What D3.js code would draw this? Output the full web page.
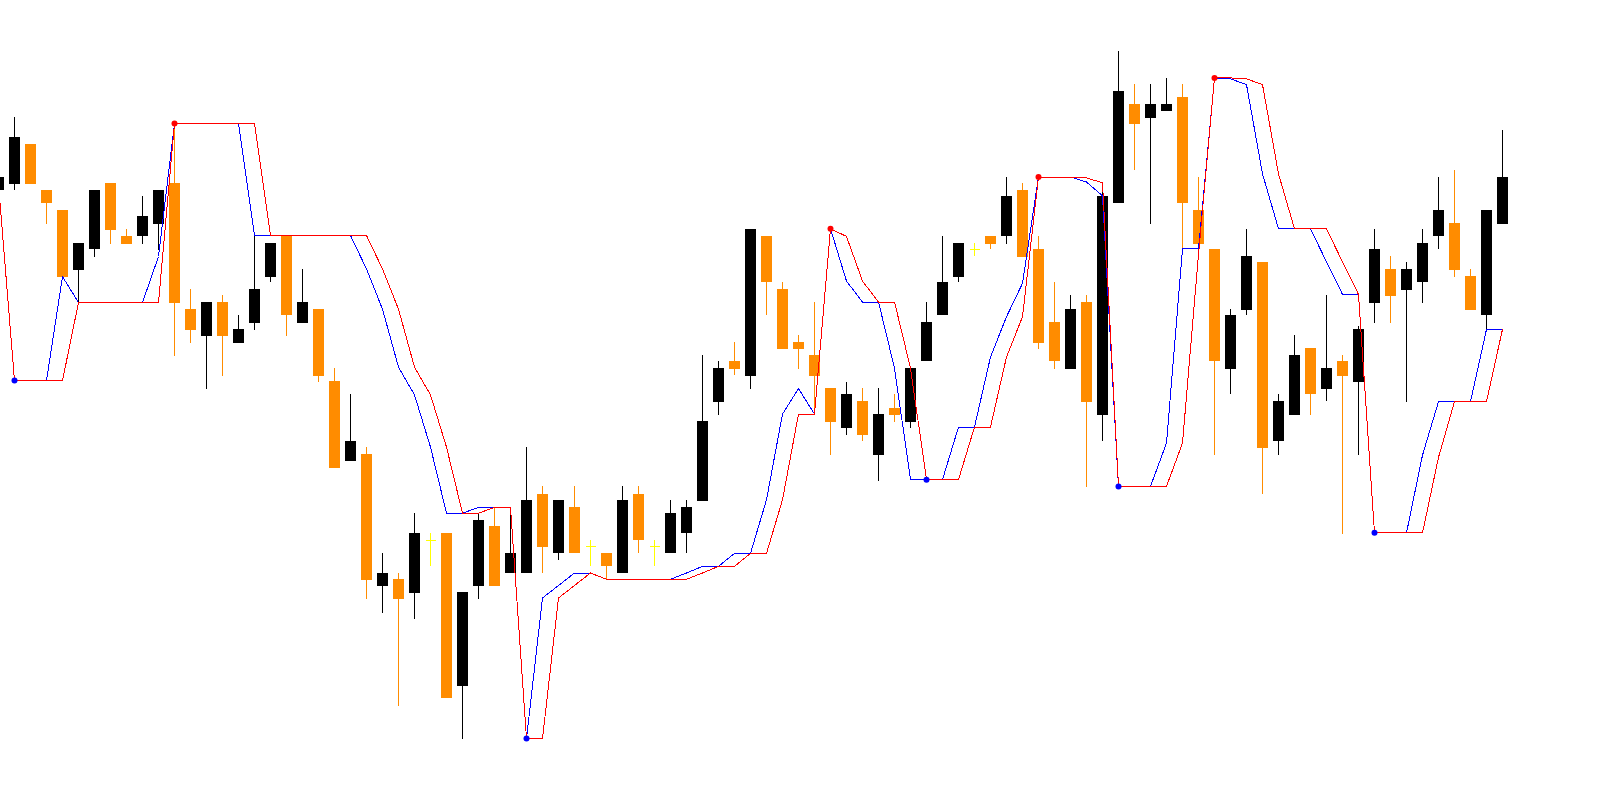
<!DOCTYPE html>
<html>
<head>
<meta charset="utf-8">
<script src="https://cdn.jsdelivr.net/npm/d3@7/dist/d3.min.js"></script>
<style>
  html, body { margin: 0; padding: 0; background: #fff; }
  svg { display: block; }
</style>
</head>
<body>
<svg width="1607" height="808"></svg>
<script>

// candles, one per bar (price units, no axis on the chart)
var open = [609.6,616.3,656.0,610.0,589.9,530.5,550.6,617.2,564.0,563.6,
            576.5,617.2,490.8,464.5,498.0,457.3,477.4,523.4,564.5,477.4,
            490.8,419.0,339.5,346.2,213.6,221.2,207.4,260.0,267.2,114.5,
            213.6,273.9,227.0,227.0,306.0,246.6,293.5,253.3,247.1,227.0,
            306.0,253.3,246.6,266.7,299.3,398.4,439.0,424.3,564.5,510.9,
            458.2,444.8,411.8,372.5,398.9,345.3,392.2,378.3,438.6,484.6,
            523.4,550.6,564.0,563.6,610.0,551.1,477.9,431.4,498.0,385.5,
            596.6,696.2,682.3,688.6,702.9,589.9,551.1,431.4,490.4,538.1,
            358.7,385.5,452.0,411.4,439.0,418.5,497.5,531.0,510.5,517.6,
            563.6,577.0,523.9,484.6,576.5];
var high = [623.0,683.2,656.0,610.0,589.9,556.9,610.0,617.2,571.2,604.2,
            610.0,675.0,510.9,498.0,505.1,485.0,564.5,556.9,564.5,531.0,
            490.8,431.9,406.0,352.9,247.1,227.4,286.8,267.2,267.2,208.2,
            286.8,293.5,285.5,352.9,313.6,300.2,313.6,260.0,247.1,313.6,
            313.6,260.0,300.2,300.2,444.8,439.0,458.2,571.2,564.5,517.6,
            464.9,498.0,411.8,418.5,411.8,411.8,406.0,431.9,498.0,564.0,
            556.9,556.9,564.0,623.0,617.2,564.0,518.0,505.1,505.1,608.2,
            748.8,715.8,715.8,722.1,715.8,623.0,551.1,490.8,571.2,538.1,
            405.6,464.9,452.0,505.1,444.8,474.3,571.2,543.9,538.1,571.2,
            623.0,630.1,531.0,589.9,669.8];
var low  = [609.6,609.6,616.3,576.5,523.4,497.5,543.5,556.4,556.4,556.4,
            550.2,444.4,457.3,411.4,424.3,457.3,470.3,517.6,464.5,477.4,
            418.1,332.3,339.5,200.7,187.3,94.4,180.6,234.1,101.6,61.4,
            200.7,213.6,227.0,227.0,227.0,239.9,246.6,234.1,220.7,227.0,
            246.6,234.1,246.6,246.6,299.3,385.5,425.2,411.4,484.6,451.5,
            431.4,387.3,345.3,365.4,358.7,319.4,378.3,372.5,438.6,484.6,
            517.6,543.9,550.6,556.4,543.5,451.5,431.4,431.4,312.7,358.7,
            596.6,629.6,576.5,688.6,551.1,554.0,345.3,405.6,484.6,305.6,
            345.3,385.5,385.5,398.9,266.3,345.3,477.4,477.4,398.4,497.5,
            550.6,523.4,490.4,470.7,576.5];
var close = [623.0,663.1,616.3,596.6,523.4,556.9,610.0,570.3,556.4,584.1,
            610.0,497.5,470.3,498.0,464.5,471.2,510.9,556.9,484.6,498.0,
            424.3,332.3,359.1,220.3,227.0,200.7,267.2,260.0,101.6,208.2,
            280.1,213.6,247.1,300.2,253.3,300.2,246.6,253.3,233.7,300.2,
            260.0,253.3,286.8,293.5,379.2,431.9,431.4,571.2,517.6,451.5,
            451.5,424.3,378.3,406.0,365.4,385.9,385.5,431.9,477.9,518.0,
            556.9,550.6,556.4,604.2,543.5,457.3,438.6,490.8,398.4,604.2,
            709.1,675.6,696.2,696.2,596.6,556.4,438.6,484.6,543.9,352.4,
            398.9,444.8,405.6,431.9,424.3,471.2,551.1,504.2,531.0,556.9,
            589.9,530.5,490.4,589.9,623.0];

// the two indicator lines
var redLine = [615.8,419.4,419.4,419.4,419.4,497.5,497.5,497.5,497.5,497.5,
            497.5,676.5,676.5,676.5,676.5,676.5,676.5,564.5,564.5,564.5,
            564.5,564.5,564.5,564.5,531.0,490.8,432.8,405.1,352.9,286.8,
            286.8,292.6,292.6,61.4,61.4,202.0,214.5,227.0,220.7,220.7,
            220.7,220.7,220.7,220.7,227.0,233.7,233.7,246.6,246.6,300.2,
            385.9,385.9,571.2,563.6,518.9,498.0,498.0,431.9,320.3,320.3,
            320.3,373.0,373.0,443.0,483.2,623.0,623.0,623.0,622.1,617.2,
            313.6,313.6,313.6,313.6,356.9,545.7,722.1,722.1,721.2,715.4,
            626.1,571.2,571.2,571.2,538.1,505.6,267.2,267.2,267.2,267.2,
            342.6,398.4,398.4,398.4,470.7];
var blueLine = [615.8,419.4,419.4,419.4,523.4,497.5,497.5,497.5,497.5,497.5,
            543.5,676.5,676.5,676.5,676.5,676.5,564.5,564.5,564.5,564.5,
            564.5,564.5,564.5,531.0,490.8,432.8,405.1,352.9,286.8,286.8,
            292.6,292.6,292.6,61.4,202.0,214.5,227.0,227.0,220.7,220.7,
            220.7,220.7,220.7,227.0,233.7,233.7,246.6,246.6,300.2,385.9,
            411.4,385.9,571.2,518.9,498.0,498.0,431.9,320.3,320.3,320.3,
            373.0,373.0,443.0,483.2,516.7,623.0,623.0,623.0,618.0,604.2,
            313.6,313.6,313.6,356.9,551.1,551.1,722.1,721.2,715.4,626.1,
            571.2,571.2,571.2,538.1,505.6,505.6,267.2,267.2,267.2,344.8,
            398.4,398.4,398.4,470.7,470.7];

// bars where the swing dots sit
var redDots = [11, 52, 65, 76];
var blueDots = [1, 33, 58, 70, 86];

var bullColor = "#000000",
    bearColor = "#ff8c00",
    dojiColor = "#ffff00";

var svg = d3.select("svg"),
    width = 1607,
    height = 808;

svg.append("rect").attr("width", width).attr("height", height).attr("fill", "#fff");

var x = d3.scaleLinear()
    .domain([0, open.length - 1])
    .range([-1.5, 1502.5]);     // 16px per bar, first bar half cut off

var y = d3.scaleLinear()
    .domain([0, 800])
    .range([800, 0]);

var bodyW = 11;

var bars = open.map(function(o, i) {
    return {i: i, o: o, h: high[i], l: low[i], c: close[i]};
});

function colorOf(d) {
    if (d.c > d.o) return bullColor;
    if (d.c < d.o) return bearColor;
    return dojiColor;
}

var g = svg.append("g").attr("shape-rendering", "crispEdges");

/* --------- wicks --------- */
g.selectAll("line.wick")
    .data(bars)
    .enter().append("line")
    .attr("class", "wick")
    .attr("x1", function(d) { return x(d.i); })
    .attr("x2", function(d) { return x(d.i); })
    .attr("y1", function(d) { return y(d.h); })
    .attr("y2", function(d) { return y(d.l); })
    .attr("stroke", colorOf)
    .attr("stroke-width", 1);

/* --------- bodies --------- */
g.selectAll("rect.body")
    .data(bars.filter(function(d) { return d.o !== d.c; }))
    .enter().append("rect")
    .attr("class", "body")
    .attr("x", function(d) { return x(d.i) - bodyW / 2; })
    .attr("y", function(d) { return y(Math.max(d.o, d.c)); })
    .attr("width", bodyW)
    .attr("height", function(d) { return Math.max(1, Math.abs(y(d.o) - y(d.c))); })
    .attr("fill", colorOf);

// doji -> little yellow cross
g.selectAll("line.doji")
    .data(bars.filter(function(d) { return d.o === d.c; }))
    .enter().append("line")
    .attr("class", "doji")
    .attr("x1", function(d) { return x(d.i) - 5; })
    .attr("x2", function(d) { return x(d.i) + 5; })
    .attr("y1", function(d) { return y(d.o); })
    .attr("y2", function(d) { return y(d.o); })
    .attr("stroke", dojiColor)
    .attr("stroke-width", 1);

/* --------- indicator lines --------- */
var line = d3.line()
    .x(function(d, i) { return x(i); })
    .y(function(d) { return y(d); });

// aliased like the terminal draws them
svg.append("path")
    .datum(blueLine)
    .attr("d", line)
    .attr("fill", "none")
    .attr("stroke", "#0000ff")
    .attr("stroke-width", 1)
    .attr("shape-rendering", "crispEdges");

svg.append("path")
    .datum(redLine)
    .attr("d", line)
    .attr("fill", "none")
    .attr("stroke", "#ff0000")
    .attr("stroke-width", 1)
    .attr("shape-rendering", "crispEdges");

/* --------- swing dots --------- */
svg.selectAll("circle.red")
    .data(redDots)
    .enter().append("circle")
    .attr("class", "red")
    .attr("cx", function(d) { return x(d); })
    .attr("cy", function(d) { return y(redLine[d]); })
    .attr("r", 3)
    .attr("fill", "#ff0000");

svg.selectAll("circle.blue")
    .data(blueDots)
    .enter().append("circle")
    .attr("class", "blue")
    .attr("cx", function(d) { return x(d); })
    .attr("cy", function(d) { return y(blueLine[d]); })
    .attr("r", 3)
    .attr("fill", "#0000ff");

</script>
</body>
</html>
